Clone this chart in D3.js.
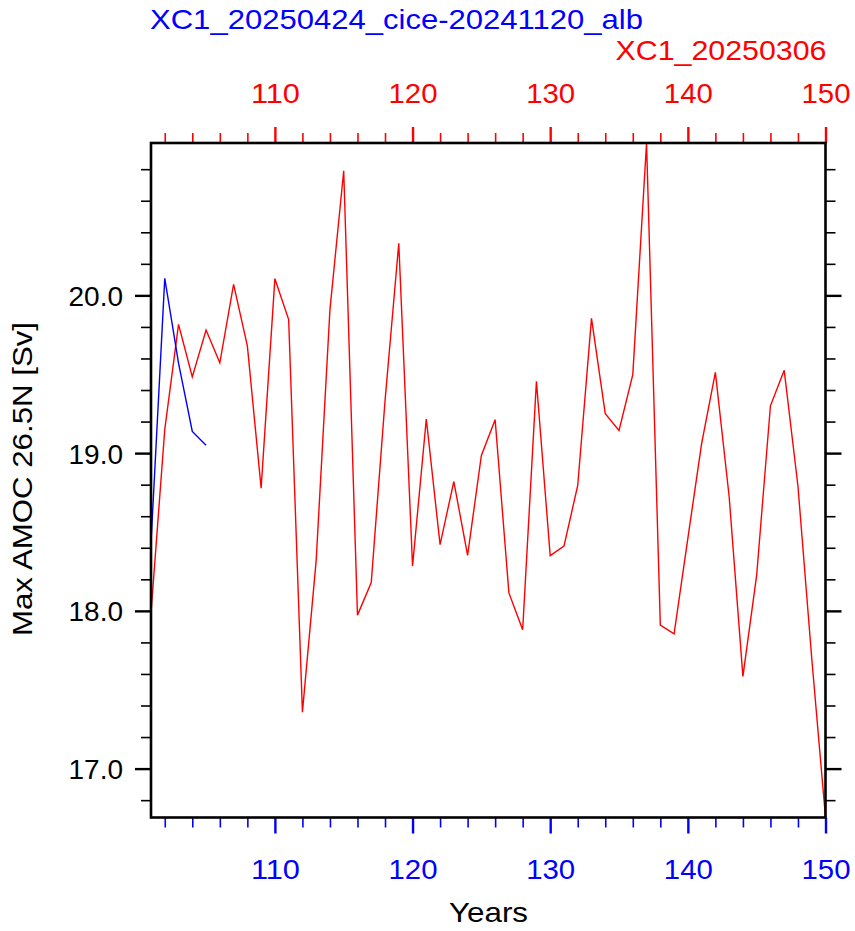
<!DOCTYPE html>
<html>
<head>
<meta charset="utf-8">
<script src="https://cdn.jsdelivr.net/npm/d3@7"></script>
<style>
  html, body { margin: 0; padding: 0; background: #fff; }
  svg text { font-family: "Liberation Sans", Arial, Helvetica, sans-serif; }
</style>
</head>
<body>
<svg id="chart" width="855" height="931"></svg>
<script>
// ---- data ----
const redName = "XC1_20250306";
const blueName = "XC1_20250424_cice-20241120_alb";
const redYears = d3.range(101, 151);
const redValues = [
  17.985, 19.15, 19.816, 19.483, 19.78, 19.572, 20.07, 19.68, 18.778, 20.106,
  19.847, 17.358, 18.32, 19.91, 20.79, 17.973, 18.18, 19.33, 20.33, 18.284,
  19.216, 18.42, 18.82, 18.352, 18.985, 19.212, 18.114, 17.88, 19.455, 18.35,
  18.41, 18.795, 19.854, 19.25, 19.144, 19.498, 20.966, 17.909, 17.854, 18.46,
  19.06, 19.512, 18.725, 17.585, 18.227, 19.30, 19.525, 18.79, 17.70, 16.69
];
const blueYears = [101, 102, 103, 104, 105];
const blueValues = [18.43, 20.108, 19.57, 19.137, 19.05];
const xMajorTicks = [110, 120, 130, 140, 150];
const xMinorTicks = d3.range(102, 151, 2).filter(v => v % 10 !== 0);
const yMajorTicks = [17.0, 18.0, 19.0, 20.0];
const yMinorTicks = d3.range(16.8, 20.81, 0.2).map(v => +v.toFixed(1)).filter(v => Math.abs(v - Math.round(v)) > 1e-6);
const xLabel = "Years";
const yLabel = "Max AMOC 26.5N [Sv]";

// ---- layout ----
const svg = d3.select("#chart");
const L = 151, R = 825.5, T = 143, B = 817.5;
const FS = 28;

const x = d3.scaleLinear().domain([101, 150]).range([L, R]);
const allVals = redValues.concat(blueValues);
const y = d3.scaleLinear().domain(d3.extent(allVals)).range([B, T]);

function styleAxis(g, color, width) {
  g.select(".domain").remove();
  g.selectAll(".tick line").attr("stroke", color).attr("stroke-width", width);
  g.selectAll(".tick text").attr("fill", color).style("font-size", FS + "px");
}

// bottom axis (blue)
svg.append("g").attr("transform", `translate(0,${B})`)
  .call(d3.axisBottom(x).tickValues(xMinorTicks).tickSize(10).tickFormat(""))
  .call(g => styleAxis(g, "#0000ff", 1.6));
svg.append("g").attr("transform", `translate(0,${B})`)
  .call(d3.axisBottom(x).tickValues(xMajorTicks).tickSize(16).tickFormat(d3.format("d")))
  .call(g => styleAxis(g, "#0000ff", 2.4))
  .call(g => g.selectAll(".tick text").attr("dy", null).attr("y", 61.5)
    .attr("textLength", 49).attr("lengthAdjust", "spacingAndGlyphs"));

// top axis (red)
svg.append("g").attr("transform", `translate(0,${T})`)
  .call(d3.axisTop(x).tickValues(xMinorTicks).tickSize(10).tickFormat(""))
  .call(g => styleAxis(g, "#ff0000", 1.6));
svg.append("g").attr("transform", `translate(0,${T})`)
  .call(d3.axisTop(x).tickValues(xMajorTicks).tickSize(16).tickFormat(d3.format("d")))
  .call(g => styleAxis(g, "#ff0000", 2.4))
  .call(g => g.selectAll(".tick text").attr("dy", null).attr("y", -40)
    .attr("textLength", 49).attr("lengthAdjust", "spacingAndGlyphs"));

// left axis
svg.append("g").attr("transform", `translate(${L},0)`)
  .call(d3.axisLeft(y).tickValues(yMinorTicks).tickSize(10).tickFormat(""))
  .call(g => styleAxis(g, "#000", 1.6));
svg.append("g").attr("transform", `translate(${L},0)`)
  .call(d3.axisLeft(y).tickValues(yMajorTicks).tickSize(16).tickFormat(d3.format(".1f")))
  .call(g => styleAxis(g, "#000", 2.4))
  .call(g => g.selectAll(".tick text").attr("x", -28).attr("dy", "0.36em"));

// right axis
svg.append("g").attr("transform", `translate(${R},0)`)
  .call(d3.axisRight(y).tickValues(yMinorTicks).tickSize(10).tickFormat(""))
  .call(g => styleAxis(g, "#000", 1.6));
svg.append("g").attr("transform", `translate(${R},0)`)
  .call(d3.axisRight(y).tickValues(yMajorTicks).tickSize(16).tickFormat(""))
  .call(g => styleAxis(g, "#000", 2.4));

// clip
svg.append("clipPath").attr("id", "clip")
  .append("rect").attr("x", L).attr("y", T).attr("width", R - L).attr("height", B - T);

const line = d3.line().x(d => x(d[0])).y(d => y(d[1]));
const plot = svg.append("g").attr("clip-path", "url(#clip)");
plot.append("path")
  .datum(redYears.map((yr, i) => [yr, redValues[i]]))
  .attr("d", line).attr("fill", "none").attr("stroke", "#ff0000").attr("stroke-width", 1.4);
plot.append("path")
  .datum(blueYears.map((yr, i) => [yr, blueValues[i]]))
  .attr("d", line).attr("fill", "none").attr("stroke", "#0000ff").attr("stroke-width", 1.4);

// frame
svg.append("rect").attr("x", L).attr("y", T).attr("width", R - L).attr("height", B - T)
  .attr("fill", "none").attr("stroke", "#000").attr("stroke-width", 2.6);

// titles
svg.append("text").attr("x", 150).attr("y", 29).attr("fill", "#0000ff")
  .attr("textLength", 493).attr("lengthAdjust", "spacingAndGlyphs")
  .style("font-size", FS + "px").text(blueName);
svg.append("text").attr("x", 615.5).attr("y", 60).attr("fill", "#ff0000")
  .attr("textLength", 211).attr("lengthAdjust", "spacingAndGlyphs")
  .style("font-size", FS + "px").text(redName);

// axis labels
svg.append("text").attr("x", 449).attr("y", 922)
  .attr("textLength", 79).attr("lengthAdjust", "spacingAndGlyphs")
  .attr("fill", "#000").style("font-size", FS + "px").text(xLabel);
svg.append("text").attr("transform", `translate(32,636) rotate(-90)`)
  .attr("textLength", 314).attr("lengthAdjust", "spacingAndGlyphs")
  .attr("fill", "#000").style("font-size", FS + "px").text(yLabel);
</script>
</body>
</html>
